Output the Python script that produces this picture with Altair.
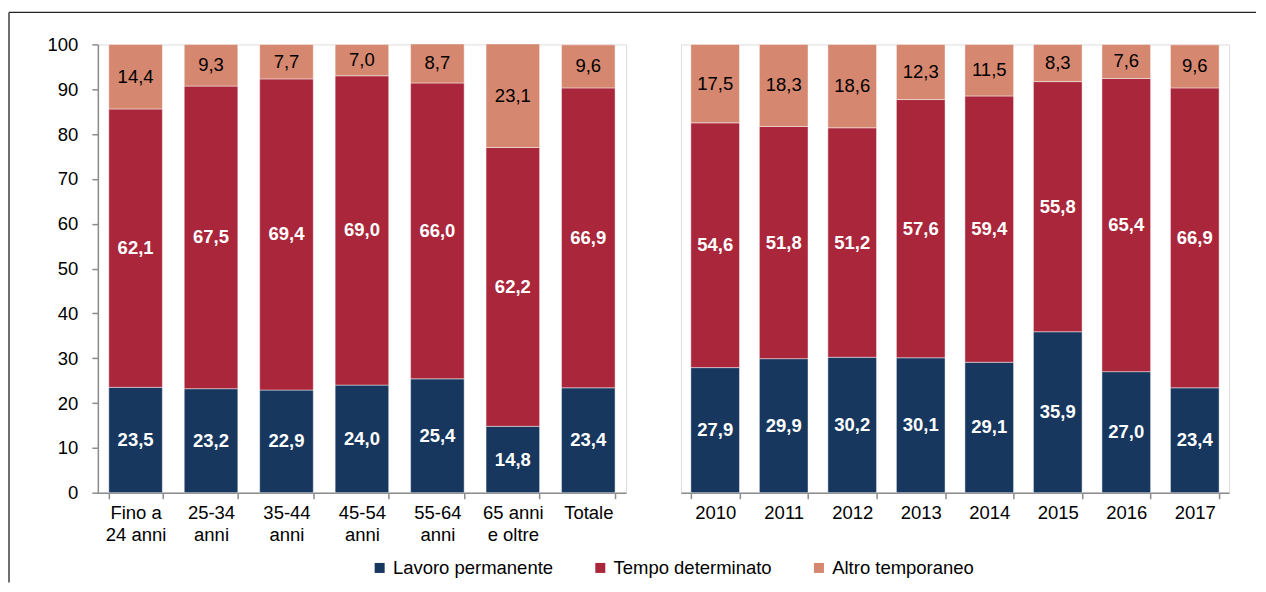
import altair as alt
import pandas as pd

series = ["Lavoro permanente", "Tempo determinato", "Altro temporaneo"]
colors = ["#17375e", "#aa263b", "#d5876f"]

age_cats = ["Fino a\n24 anni", "25-34\nanni", "35-44\nanni", "45-54\nanni",
            "55-64\nanni", "65 anni\ne oltre", "Totale"]
age_perm = [23.5, 23.2, 22.9, 24.0, 25.4, 14.8, 23.4]
age_det = [62.1, 67.5, 69.4, 69.0, 66.0, 62.2, 66.9]
age_alt = [14.4, 9.3, 7.7, 7.0, 8.7, 23.1, 9.6]

years = ["2010", "2011", "2012", "2013", "2014", "2015", "2016", "2017"]
yr_perm = [27.9, 29.9, 30.2, 30.1, 29.1, 35.9, 27.0, 23.4]
yr_det = [54.6, 51.8, 51.2, 57.6, 59.4, 55.8, 65.4, 66.9]
yr_alt = [17.5, 18.3, 18.6, 12.3, 11.5, 8.3, 7.6, 9.6]

FONT = "Liberation Sans"
FS = 18.5
PLOT_H = 449


def make_df(cats, perm, det, alt_):
    rows = []
    for i, c in enumerate(cats):
        for k, (s, v) in enumerate(zip(series, [perm[i], det[i], alt_[i]])):
            rows.append({"cat": c, "series": s, "idx": k, "value": v})
    return pd.DataFrame(rows)


def panel(cats, perm, det, alt_, width, show_y, extra_layers=()):
    df = make_df(cats, perm, det, alt_)
    xaxis = alt.Axis(title=None, labelAngle=0, labelFontSize=FS, labelColor="black",
                     labelFont=FONT, domainColor="#8c8c8c", domainWidth=1.5,
                     tickColor="#8c8c8c", tickWidth=1.5, tickSize=6, tickBand="extent",
                     labelPadding=5, labelLineHeight=22,
                     labelExpr="split(datum.label, '\\n')")
    if show_y:
        yaxis = alt.Axis(title=None, values=list(range(0, 101, 10)), labelFontSize=FS,
                         labelColor="black", labelFont=FONT, labelPadding=14,
                         tickSize=6, tickColor="#8c8c8c", tickWidth=1.5,
                         domainColor="#8c8c8c", domainWidth=1.5, grid=False)
    else:
        yaxis = None
    xenc = alt.X("cat:N", sort=cats, axis=xaxis,
                 scale=alt.Scale(paddingInner=0.29, paddingOuter=0.145))
    yscale = alt.Scale(domain=[0, 100], nice=False)
    base = (alt.Chart(df)
            .transform_stack(stack="value", groupby=["cat"], as_=["y0", "y1"],
                             sort=[alt.SortField("idx", order="ascending")])
            .transform_calculate(mid="(datum.y0 + datum.y1) / 2",
                                 lab="replace(format(datum.value, '.1f'), '.', ',')"))
    bars = base.mark_bar(stroke="white", strokeOpacity=0.45, strokeWidth=1).encode(
        x=xenc,
        y=alt.Y("y0:Q", scale=yscale, axis=yaxis),
        y2="y1:Q",
        color=alt.Color("series:N", sort=series,
                        scale=alt.Scale(domain=series, range=colors),
                        legend=alt.Legend(title=None, orient="none", direction="horizontal",
                                          legendX=273, legendY=515,
                                          symbolType="square", symbolSize=100,
                                          symbolStrokeWidth=0, labelFontSize=FS,
                                          labelFont=FONT, labelColor="black",
                                          labelOffset=4, columnPadding=38,
                                          labelLimit=300)),
        order=alt.Order("idx:Q"),
    )
    txt_white = base.transform_filter("datum.idx < 2").mark_text(
        color="white", fontWeight="bold", fontSize=FS, font=FONT, baseline="middle"
    ).encode(x=xenc, y=alt.Y("mid:Q", scale=yscale, axis=yaxis), text="lab:N")
    txt_black = base.transform_filter("datum.idx == 2").mark_text(
        color="black", fontSize=FS, font=FONT, baseline="middle"
    ).encode(x=xenc, y=alt.Y("mid:Q", scale=yscale, axis=yaxis), text="lab:N")
    return alt.layer(bars, txt_white, txt_black, *extra_layers).properties(
        width=width, height=PLOT_H)


dummy = pd.DataFrame({"a": [0]})
frame_left = alt.Chart(dummy).mark_rule(color="#222222", strokeWidth=1.3).encode(
    x=alt.value(-89), y=alt.value(-32), y2=alt.value(539))
frame_top = alt.Chart(dummy).mark_rule(color="#222222", strokeWidth=1.3).encode(
    x=alt.value(-89), x2=alt.value(1160), y=alt.value(-32))

left = panel(age_cats, age_perm, age_det, age_alt, 529, True, (frame_left, frame_top))
right = panel(years, yr_perm, yr_det, yr_alt, 549, False)

chart = (alt.hconcat(left, right, spacing=55, bounds="flush")
         .resolve_scale(color="shared")
         .properties(padding={"left": -1, "top": 2, "right": 0, "bottom": 0})
         .configure_view(stroke=None)
         .configure(font=FONT))

chart.save("out.html", embed_options={"renderer": "svg", "actions": False})
